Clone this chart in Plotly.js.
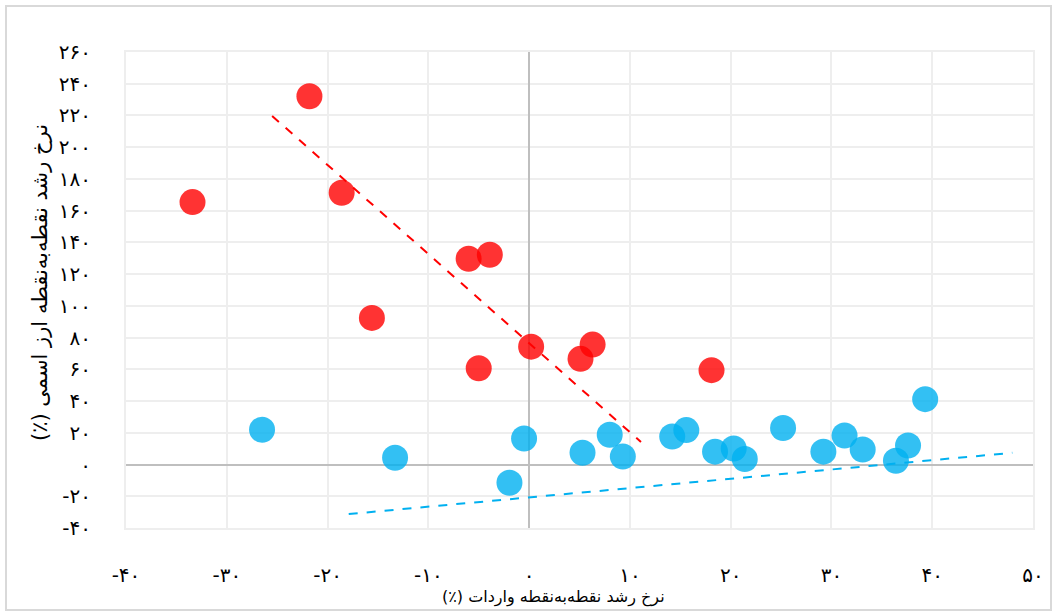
<!DOCTYPE html>
<html>
<head>
<meta charset="utf-8">
<script src="https://cdn.plot.ly/plotly-3.0.1.min.js"></script>
<style>
  html, body { margin: 0; padding: 0; background: #fff; }
  #chart { width: 1057px; height: 616px; }
</style>
</head>
<body>
<div id="chart"></div>
<script>
// ---- Data ----
const redX = [-21.8, -33.4, -18.6, -6.0, -3.9, -15.6, 0.2, -5.0, 5.1, 6.3, 18.1];
const redY = [232.1, 165.4, 171.3, 129.7, 132.2, 92.4, 74.3, 60.7, 66.6, 75.6, 59.5];

const blueX = [-26.5, -13.3, -0.5, -1.95, 5.3, 8.0, 9.3, 14.2, 15.6, 18.45, 20.3, 21.4, 25.2, 29.2, 31.3, 33.1, 36.4, 37.6, 39.3];
const blueY = [21.9, 4.3, 16.4, -11.5, 7.4, 18.8, 5.1, 17.7, 21.7, 8.1, 10.1, 3.5, 23.0, 8.1, 18.3, 9.5, 2.4, 12.0, 41.2];

const redTrendX = [-25.5, 11.1];
const redTrendY = [219.7, 14.2];
const blueTrendX = [-17.9, 47.95];
const blueTrendY = [-31.2, 7.4];

const xTickVals = [-40, -30, -20, -10, 0, 10, 20, 30, 40, 50];
const xTickText = ["-۴۰", "-۳۰", "-۲۰", "-۱۰", "۰", "۱۰", "۲۰", "۳۰", "۴۰", "۵۰"];
const yTickVals = [-40, -20, 0, 20, 40, 60, 80, 100, 120, 140, 160, 180, 200, 220, 240, 260];
const yTickText = ["-۴۰", "-۲۰", "۰", "۲۰", "۴۰", "۶۰", "۸۰", "۱۰۰", "۱۲۰", "۱۴۰", "۱۶۰", "۱۸۰", "۲۰۰", "۲۲۰", "۲۴۰", "۲۶۰"];

const xTitle = "\u200Fنرخ رشد نقطه\u200Cبه\u200Cنقطه واردات (٪)\u200F";
const yTitle = "\u200Fنرخ رشد نقطه\u200Cبه\u200Cنقطه ارز اسمی (٪)\u200F";

const FONT = "DejaVu Sans, Noto Sans, sans-serif";

const traces = [
  {
    type: "scatter", mode: "markers", x: redX, y: redY,
    marker: { size: 26, color: "rgba(255,0,0,0.8)", line: { width: 0 } },
    hoverinfo: "skip", showlegend: false
  },
  {
    type: "scatter", mode: "markers", x: blueX, y: blueY,
    marker: { size: 26, color: "rgba(0,176,240,0.8)", line: { width: 0 } },
    hoverinfo: "skip", showlegend: false
  },
  {
    type: "scatter", mode: "lines", x: redTrendX, y: redTrendY,
    line: { color: "#ff0000", width: 2, dash: "dash" },
    hoverinfo: "skip", showlegend: false
  },
  {
    type: "scatter", mode: "lines", x: blueTrendX, y: blueTrendY,
    line: { color: "#00b0f0", width: 2, dash: "dash" },
    hoverinfo: "skip", showlegend: false
  }
];

const PW = 907, PH = 476, L = 126, T = 52, B = 528;

const layout = {
  width: 1057, height: 616,
  margin: { l: 126, r: 24, t: 52, b: 88, pad: 0 },
  paper_bgcolor: "#ffffff", plot_bgcolor: "#ffffff",
  font: { family: FONT, color: "#000000", size: 16 },
  showlegend: false,
  hovermode: false,
  xaxis: {
    range: [-40, 50], tickmode: "array", tickvals: xTickVals, ticktext: xTickText,
    showgrid: true, gridcolor: "#eeeeee", gridwidth: 2,
    zeroline: true, zerolinecolor: "#bfbfbf", zerolinewidth: 2,
    showline: true, linecolor: "#eeeeee", linewidth: 2, mirror: true,
    ticks: "", ticklabelstandoff: 28,
    tickfont: { family: FONT, size: 20, color: "#000" },
    fixedrange: true
  },
  yaxis: {
    range: [-40, 260], tickmode: "array", tickvals: yTickVals, ticktext: yTickText,
    showgrid: true, gridcolor: "#eeeeee", gridwidth: 2,
    zeroline: true, zerolinecolor: "#bfbfbf", zerolinewidth: 2,
    showline: true, linecolor: "#eeeeee", linewidth: 2, mirror: true,
    ticks: "", ticklabelstandoff: 29,
    tickfont: { family: FONT, size: 20, color: "#000" },
    fixedrange: true
  },
  annotations: [
    {
      text: xTitle, xref: "paper", yref: "paper",
      x: (553 - L) / PW, y: (B - 597) / PH, xanchor: "center", yanchor: "middle",
      showarrow: false, font: { family: FONT, size: 16, color: "#000" }
    },
    {
      text: yTitle, xref: "paper", yref: "paper", textangle: -90,
      x: (40 - L) / PW, y: (B - 283) / PH, xanchor: "center", yanchor: "middle",
      showarrow: false, font: { family: FONT, size: 21, color: "#000" }
    }
  ],
  shapes: [
    {
      type: "rect", xref: "paper", yref: "paper", layer: "below",
      x0: (6 - L) / PW, x1: (1051 - L) / PW,
      y0: (B - 610) / PH, y1: (B - 6) / PH,
      line: { color: "#d9d9d9", width: 2 }, fillcolor: "rgba(0,0,0,0)"
    }
  ]
};

Plotly.newPlot("chart", traces, layout, { displayModeBar: false, staticPlot: true });
</script>
</body>
</html>
